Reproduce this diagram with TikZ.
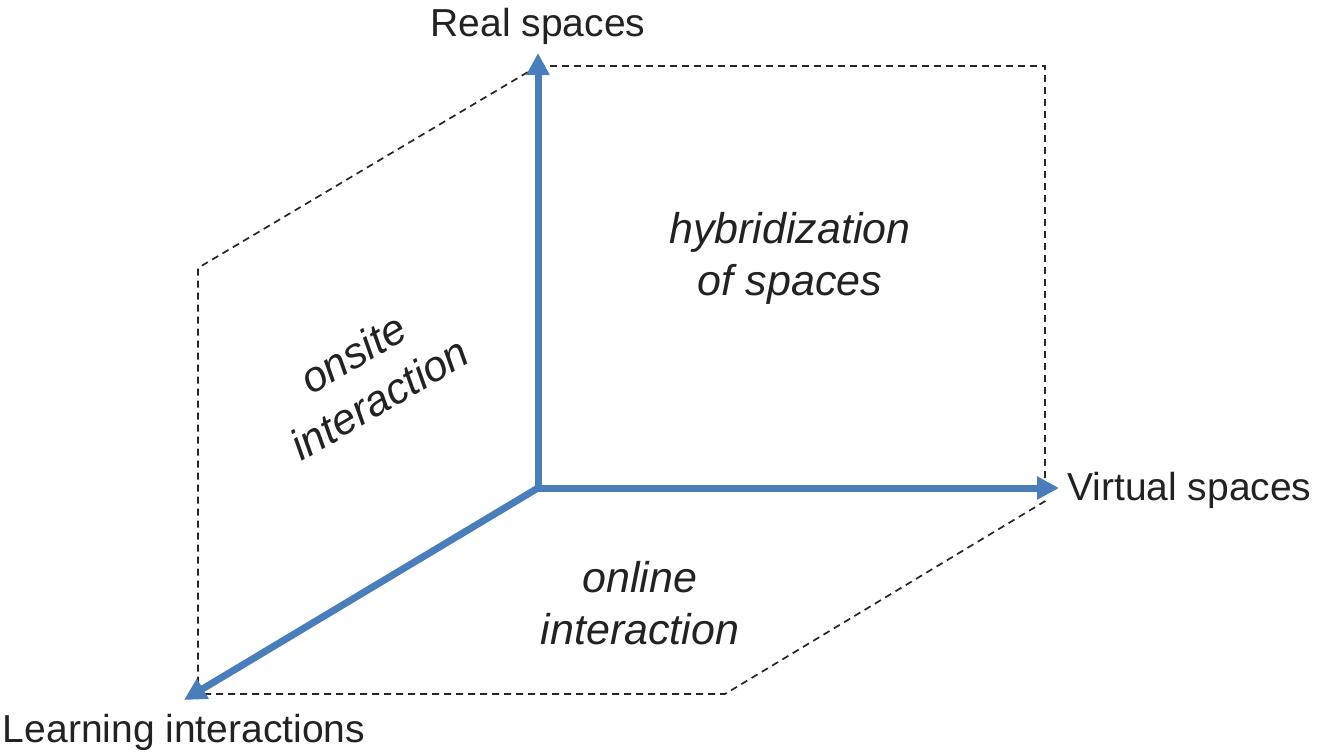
\documentclass[tikz,border=0pt]{standalone}
\usepackage{fontspec}
\setmainfont{Liberation Sans}
\usetikzlibrary{arrows.meta}
\definecolor{axisblue}{HTML}{4A7EBB}
\definecolor{txt}{HTML}{222222}
\begin{document}
\begin{tikzpicture}[x=1pt,y=-1pt,
  axis/.style={draw=axisblue,line width=7pt,-{Triangle[length=22pt,width=22pt]}},
  guide/.style={draw=black!85,line width=1.7pt,dash pattern=on 7pt off 5pt},
  lab/.style={text=txt,font=\fontsize{39}{46}\selectfont,inner sep=0pt},
  ital/.style={text=txt,font=\fontsize{43}{52}\selectfont\itshape,inner sep=0pt,align=center}]
\useasboundingbox (0,0) rectangle (1317,755);
\coordinate (O) at (538,488);
\coordinate (R) at (538,53);
\coordinate (V) at (1059,488);
\coordinate (L) at (184,700);
\coordinate (tl) at (538,66);
\coordinate (tr) at (1045,66);
\coordinate (rb) at (1045,478);
\coordinate (lt) at (198,268);
\coordinate (lb) at (198,690);
\coordinate (bl) at (204,694);
\coordinate (bm) at (725,694);
\coordinate (br) at (1047,500);
\draw[guide] (tl) -- (tr) -- (rb);
\draw[guide] (tl) -- (lt) -- (lb);
\draw[guide] (bl) -- (bm) -- (br);
\draw[axis] (O) -- (R);
\draw[axis] (O) -- (V);
\draw[axis] (O) -- (L);
\node[lab] (realtxt) at (538,26) {Real spaces};
\node[lab,anchor=west] (virttxt) at (1067,490) {Virtual spaces};
\node[lab] (learntxt) at (184,732) {Learning interactions};
\node[ital] (hyb) at (790,258) {hybridization\\of spaces};
\node[ital] (onl) at (640,603) {online\\interaction};
\node[ital,rotate=30.5] (ons) at (366,376) {onsite\\interaction};
\end{tikzpicture}
\end{document}
